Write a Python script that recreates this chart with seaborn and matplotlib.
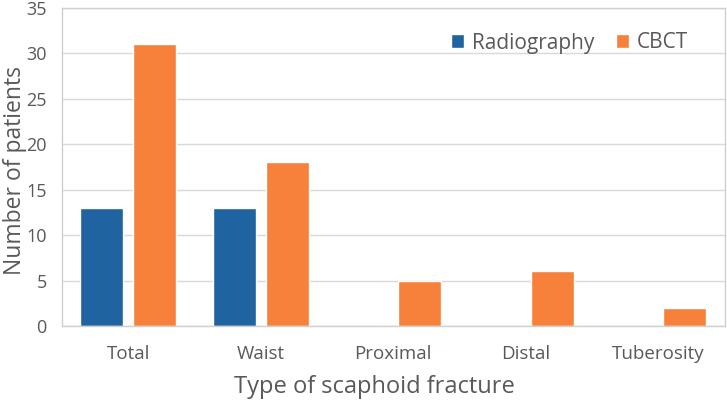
import matplotlib
matplotlib.use("Agg")
import matplotlib.pyplot as plt
import seaborn as sns
import pandas as pd

categories = ["Total", "Waist", "Proximal", "Distal", "Tuberosity"]
radiography = [13, 13, 0, 0, 0]
cbct = [31, 18, 5, 6, 2]
series_names = ["Radiography", "CBCT"]
yticks = [0, 5, 10, 15, 20, 25, 30, 35]

df = pd.DataFrame({
    "Type": categories * 2,
    "Method": [series_names[0]] * len(categories) + [series_names[1]] * len(categories),
    "Count": radiography + cbct,
})

sns.set_theme(style="white")
plt.rcParams["font.family"] = ["Open Sans", "DejaVu Sans"]
text_color = "#595959"

fig = plt.figure(figsize=(7.27, 4.03), dpi=100)
ax = fig.add_axes([62 / 727, 1 - 326 / 403, 662.5 / 727, (326 - 8) / 403])

palette = {"Radiography": "#1f63a0", "CBCT": "#f7813a"}
sns.barplot(data=df, x="Type", y="Count", hue="Method", palette=palette,
            width=0.8, gap=0.19, saturation=1, ax=ax, legend=True)

ax.set_xlim(-0.5, 4.5)
ax.set_ylim(0, 35)
ax.set_yticks(yticks)
ax.yaxis.grid(True, color="#d9d9d9", linewidth=1)
ax.set_axisbelow(True)
for s in ["top", "right", "left", "bottom"]:
    ax.spines[s].set_visible(True)
    ax.spines[s].set_color("#cfcfcf")
    ax.spines[s].set_linewidth(1)

ax.tick_params(axis="x", length=0, pad=14, labelsize=13.5, labelcolor=text_color)
ax.tick_params(axis="y", length=0, pad=11, labelsize=13, labelcolor=text_color)
ax.set_xlabel("Type of scaphoid fracture", fontsize=17, color=text_color)
ax.set_ylabel("Number of patients", fontsize=16.5, color=text_color)
ax.xaxis.set_label_coords((374.5 - 62) / 662.5, -0.155)
ax.yaxis.set_label_coords(-0.053, 0.49)

handles, labels = ax.get_legend_handles_labels()
ax.legend(handles, labels, loc="center left", bbox_to_anchor=(451 / 727, 1 - 43 / 403),
          bbox_transform=fig.transFigure, ncol=2, frameon=False, fontsize=15,
          handlelength=0.62, handleheight=0.62, handletextpad=0.38, columnspacing=1.05,
          borderpad=0, borderaxespad=0, labelcolor=text_color)

fig.savefig("out.png", dpi=100)
